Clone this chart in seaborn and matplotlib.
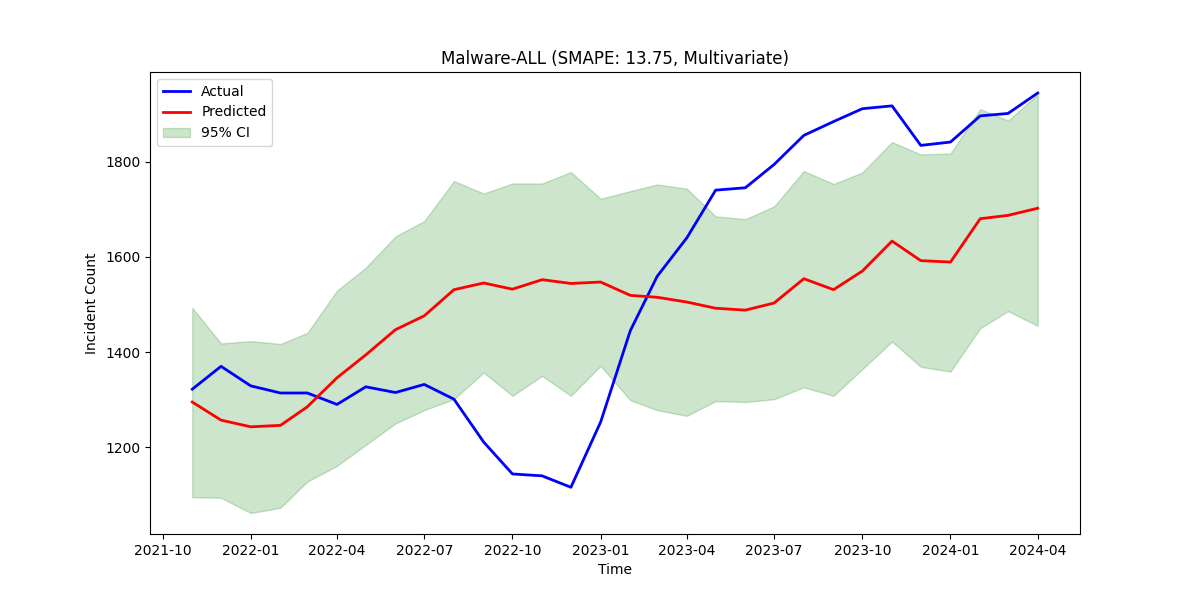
import matplotlib
matplotlib.use("Agg")
import matplotlib.pyplot as plt
import seaborn as sns
import pandas as pd

# monthly values
dates = pd.date_range("2021-11-01", "2024-04-01", freq="MS")

actual = [1322, 1370, 1329, 1314, 1314, 1290, 1327, 1315, 1332, 1301,
          1211, 1144, 1140, 1116, 1253, 1445, 1559, 1640, 1740, 1745,
          1794, 1855, 1884, 1911, 1917, 1834, 1841, 1896, 1901, 1944]

predicted = [1295, 1257, 1243, 1246, 1285, 1346, 1394, 1447, 1476, 1531,
             1545, 1532, 1552, 1544, 1547, 1519, 1515, 1505, 1492, 1488,
             1503, 1554, 1531, 1570, 1633, 1592, 1589, 1680, 1687, 1702]

ci_upper = [1493, 1418, 1423, 1417, 1440, 1529, 1577, 1643, 1675, 1759,
            1733, 1754, 1754, 1778, 1722, 1738, 1752, 1743, 1685, 1679,
            1706, 1780, 1753, 1777, 1841, 1815, 1817, 1910, 1886, 1941]

ci_lower = [1095, 1094, 1062, 1073, 1128, 1161, 1205, 1250, 1278, 1301,
            1357, 1308, 1350, 1308, 1371, 1299, 1278, 1266, 1297, 1295,
            1301, 1326, 1308, 1364, 1422, 1369, 1359, 1450, 1486, 1455]

df = pd.DataFrame({
    "date": dates,
    "actual": actual,
    "predicted": predicted,
    "lower": ci_lower,
    "upper": ci_upper,
})

fig, ax = plt.subplots(figsize=(12, 6), dpi=100)

sns.lineplot(data=df, x="date", y="actual", color="blue", linewidth=2, label="Actual", ax=ax)
sns.lineplot(data=df, x="date", y="predicted", color="red", linewidth=2, label="Predicted", ax=ax)
ax.fill_between(df["date"], df["lower"], df["upper"], color="green", alpha=0.2, label="95% CI")

ax.set_title("Malware-ALL (SMAPE: 13.75, Multivariate)")
ax.set_xlabel("Time")
ax.set_ylabel("Incident Count")
ax.legend(loc="upper left")

plt.savefig("out.png")
plt.close()
